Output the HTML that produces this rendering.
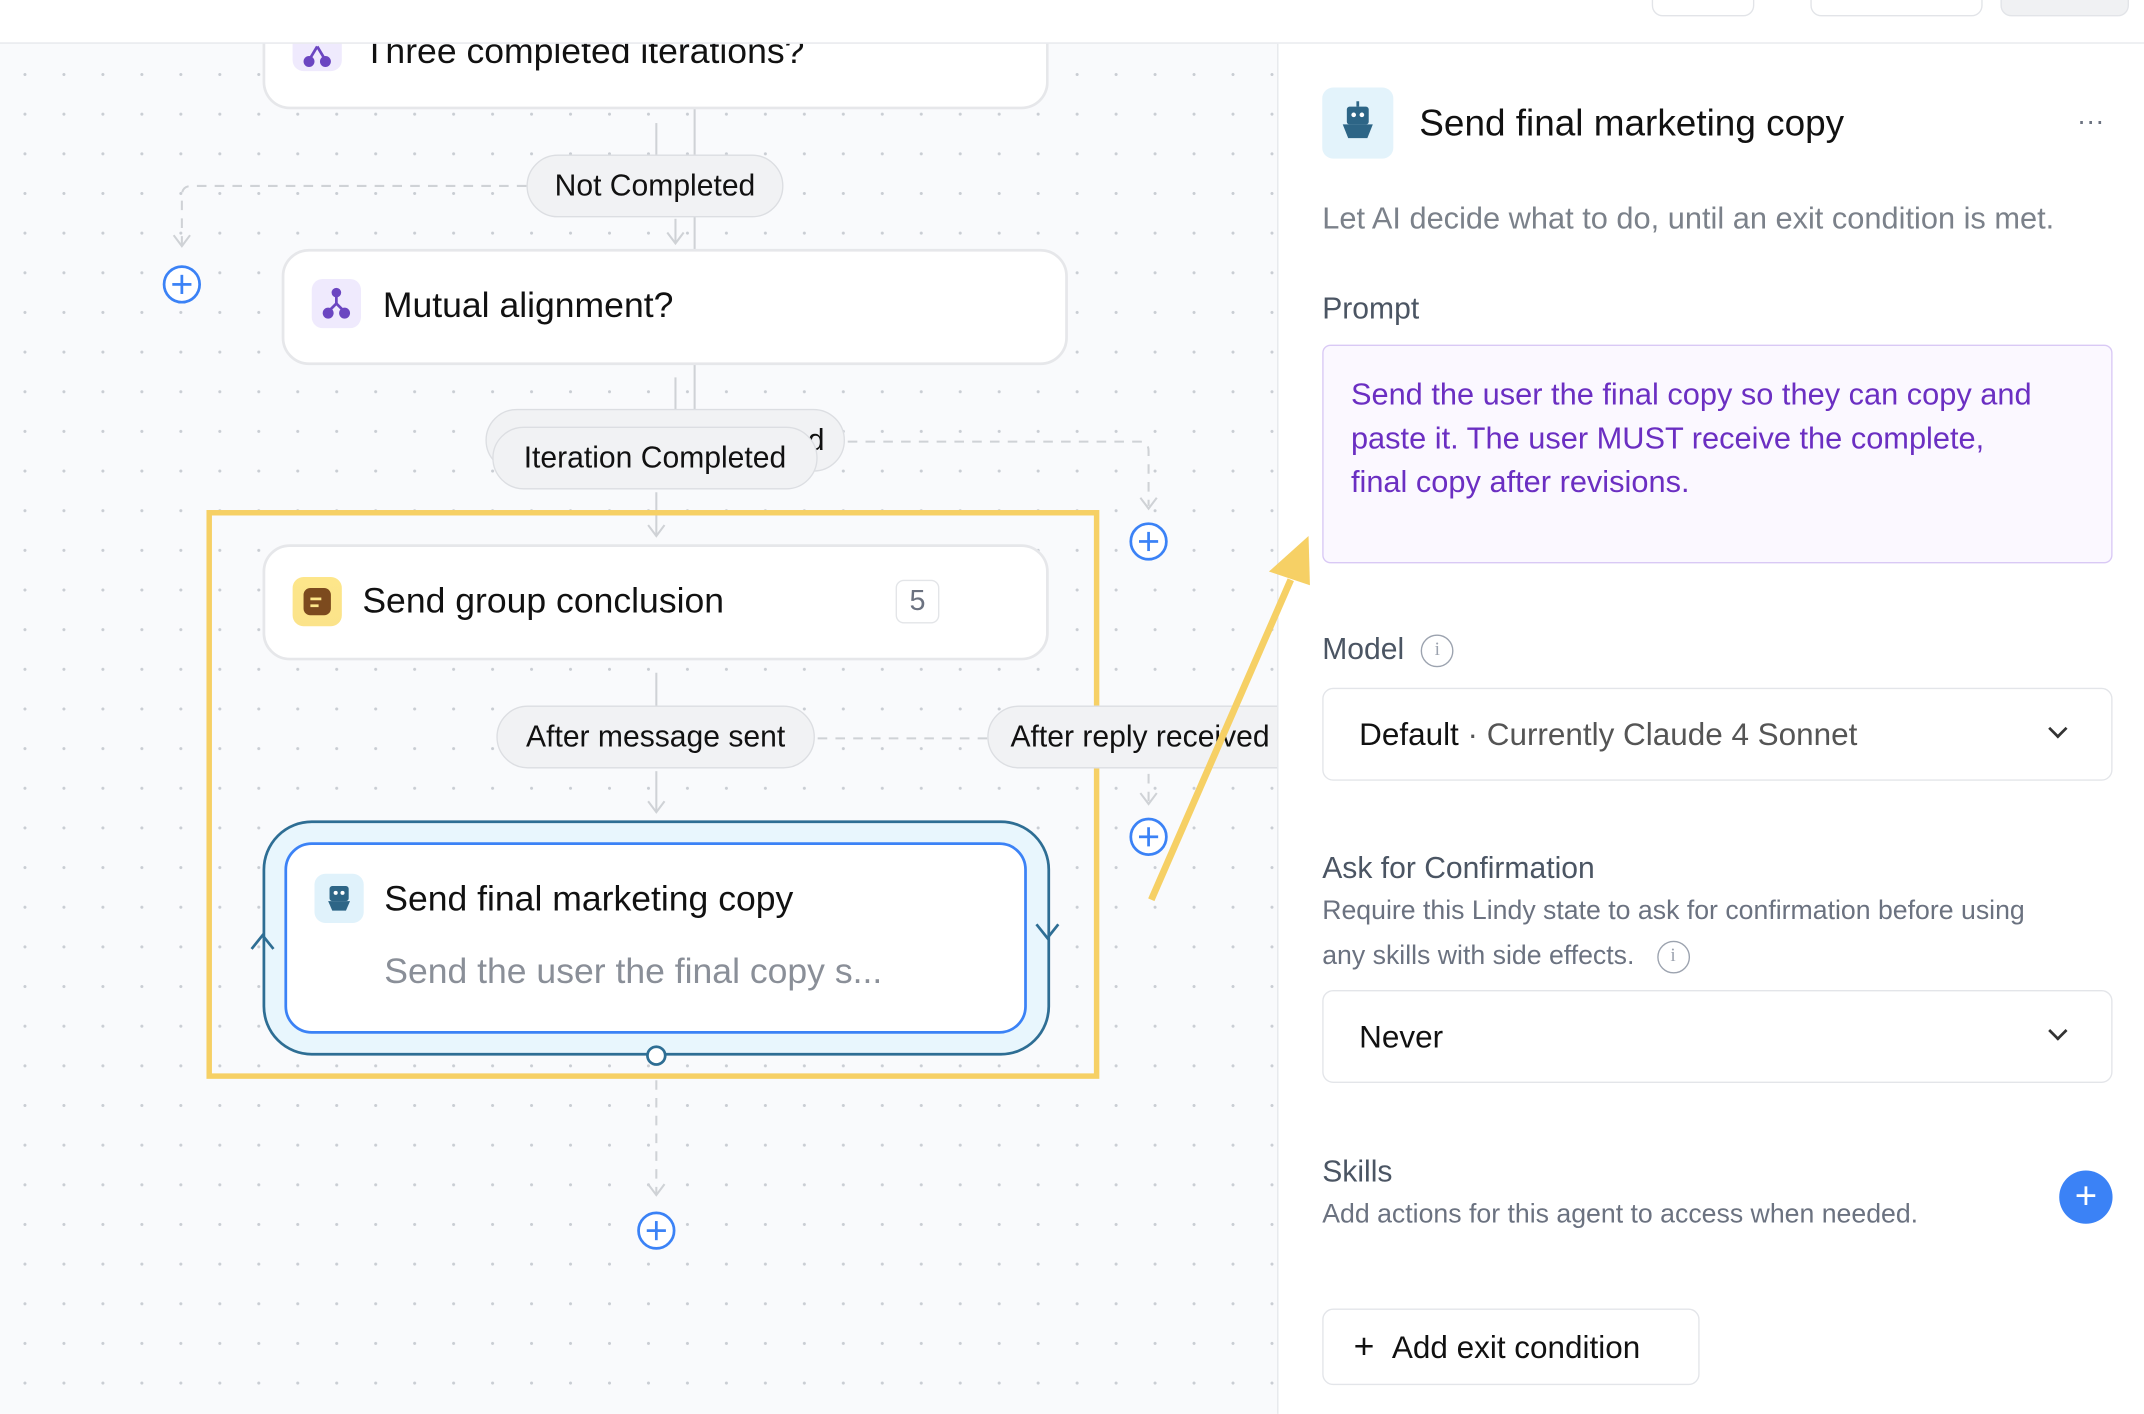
<!DOCTYPE html>
<html><head><meta charset="utf-8"><style>
*{box-sizing:border-box;margin:0;padding:0}
html,body{width:2144px;height:1414px;overflow:hidden;background:#fff}
#w{position:absolute;left:0;top:0;width:1568px;height:1034px;transform:scale(1.36735);transform-origin:0 0;font-family:"Liberation Sans",sans-serif;color:#111}
.canvas{position:absolute;left:0;top:32px;width:934px;height:1002px;background-color:#f9fafc;background-image:radial-gradient(circle,#c9cdd3 1px,transparent 1.2px);background-size:28.5px 29px;background-position:4px 8px}
.top{position:absolute;left:0;top:0;width:1568px;height:32px;background:#fff;border-bottom:1.5px solid #e5e7eb}
.btn{position:absolute;top:-10px;height:22px;border:1.5px solid #e2e4e8;border-radius:8px;background:#fff}
.node{position:absolute;background:#fff;border:2px solid #e6e7ea;border-radius:20px}
.ico{position:absolute;width:36px;height:36px;border-radius:8px}
.t{position:absolute;font-size:26px;white-space:nowrap}
.pill{position:absolute;height:46px;border:1.5px solid #dcdee2;background:#f1f2f4;border-radius:23px;font-size:22px;line-height:43px;text-align:center;white-space:nowrap;overflow:hidden}
.plus{position:absolute;width:28px;height:28px;border:2px solid #3b82f6;border-radius:50%;background:#fff}
.plus:before,.plus:after{content:"";position:absolute;background:#3b82f6;left:50%;top:50%;transform:translate(-50%,-50%)}
.plus:before{width:14px;height:2px}.plus:after{width:2px;height:14px}
.panel{position:absolute;left:934px;top:32px;width:634px;height:1002px;background:#fff;border-left:1.5px solid #e5e7eb}
.lbl{position:absolute;left:32px;font-size:22px;color:#4b5563}
.sub{position:absolute;left:32px;font-size:19.5px;color:#6b7280;line-height:33px}
.sel{position:absolute;left:32px;width:578px;height:68px;border:1.5px solid #e3e5e9;border-radius:8px;font-size:23px;line-height:66px;padding-left:26px}
.chev{position:absolute;right:34px;top:24px;width:10px;height:10px;border-right:2px solid #333;border-bottom:2px solid #333;transform:rotate(45deg)}
.info{display:inline-block;width:24px;height:24px;border:1.5px solid #9ca3af;border-radius:50%;font-size:14px;line-height:21px;text-align:center;color:#9ca3af;vertical-align:middle;font-family:"Liberation Serif",serif}
</style></head><body><div id="w">
<div class="canvas"></div>

<svg style="position:absolute;left:0;top:0" width="934" height="1034">
<g stroke="#cfd2d6" stroke-width="1.5" fill="none">
<line x1="480" y1="90" x2="480" y2="115"/><line x1="494" y1="160" x2="494" y2="178"/><polyline points="488,170 494,178 500,170"/>
<line x1="508" y1="32" x2="508" y2="300"/>
<line x1="494" y1="276" x2="494" y2="300"/>
<line x1="480" y1="360" x2="480" y2="392"/><polyline points="474,384 480,392 486,384"/>
<line x1="480" y1="492" x2="480" y2="516"/><line x1="480" y1="564" x2="480" y2="594"/><polyline points="474,586 480,594 486,586"/>
<g stroke-dasharray="7 6"><path d="M385 136 H140 Q133 136 133 143 V180"/><path d="M620 323 H834 Q840 323 840 330 V370"/><line x1="598" y1="540" x2="722" y2="540"/><line x1="480" y1="790" x2="480" y2="874"/><line x1="840" y1="566" x2="840" y2="588"/></g>
<polyline points="127,172 133,180 139,172"/><polyline points="834,364 840,372 846,364"/><polyline points="834,580 840,588 846,580"/><polyline points="474,866 480,874 486,866"/>
</g>
</svg>

<div class="node" style="left:192px;top:10px;width:575px;height:70px;border-top:none;border-radius:0 0 20px 20px"></div>
<div class="ico" style="left:214px;top:24px;width:36px;height:28px;background:#efeafd"></div>
<svg style="position:absolute;left:220px;top:30px" width="24" height="20"><path d="M12 4 L6 14 M12 4 L18 14" stroke="#6b46c1" stroke-width="2" fill="none"/><circle cx="6" cy="15" r="4" fill="#6b46c1"/><circle cx="18" cy="15" r="4" fill="#6b46c1"/></svg>
<div class="t" style="left:266px;top:22px">Three completed iterations?</div>

<div class="pill" style="left:385px;top:113px;width:188px">Not Completed</div>
<div class="plus" style="left:119px;top:194px"></div>

<div class="node" style="left:206px;top:182px;width:575px;height:85px"></div>
<div class="ico" style="left:228px;top:204px;background:#efeafd"></div>
<svg style="position:absolute;left:234px;top:210px" width="24" height="24"><circle cx="12" cy="4" r="3.5" fill="#6b46c1"/><line x1="12" y1="6" x2="12" y2="12" stroke="#6b46c1" stroke-width="2"/><path d="M6 18 L12 12 L18 18" stroke="#6b46c1" stroke-width="2" fill="none"/><circle cx="6" cy="19" r="4" fill="#6b46c1"/><circle cx="18" cy="19" r="4" fill="#6b46c1"/></svg>
<div class="t" style="left:280px;top:208px">Mutual alignment?</div>

<div class="pill" style="left:355px;top:299px;width:263px;text-align:right;padding-right:14px">d</div>
<div class="pill" style="left:360px;top:312px;width:238px">Iteration Completed</div>
<div class="plus" style="left:826px;top:382px"></div>

<div style="position:absolute;left:151px;top:373px;width:653px;height:416px;border:4px solid #f6d065"></div>

<div class="node" style="left:192px;top:398px;width:575px;height:85px"></div>
<div class="ico" style="left:214px;top:422px;background:linear-gradient(#fde68a,#fbe38a)"></div>
<div style="position:absolute;left:222px;top:430px;width:20px;height:20px;border-radius:5px;background:#7c4a1e"></div>
<div style="position:absolute;left:227px;top:437px;width:8px;height:2px;background:#fde68a"></div><div style="position:absolute;left:227px;top:442px;width:6px;height:2px;background:#fde68a"></div>
<div class="t" style="left:265px;top:424px">Send group conclusion</div>
<div style="position:absolute;left:655px;top:424px;width:32px;height:32px;border:1.5px solid #e3e5e8;border-radius:6px;font-size:21px;line-height:30px;text-align:center;color:#6b7280">5</div>

<div class="pill" style="left:363px;top:516px;width:233px">After message sent</div>
<div class="pill" style="left:722px;top:516px;width:240px;text-align:left;padding-left:16px">After reply received</div>
<div class="plus" style="left:826px;top:598px"></div>

<div style="position:absolute;left:192px;top:600px;width:576px;height:172px;border:2px solid #2e6e94;border-radius:36px;background:#e8f6fd"></div>
<div style="position:absolute;left:208px;top:616px;width:543px;height:140px;border:2px solid #3b82f6;border-radius:20px;background:#fff"></div>
<div class="ico" style="left:230px;top:639px;background:#e0f2fb"></div>
<svg style="position:absolute;left:236px;top:645px" width="24" height="24"><rect x="5" y="3" width="14" height="11" rx="2" fill="#2d6586"/><circle cx="9.5" cy="8" r="1.5" fill="#fff"/><circle cx="14.5" cy="8" r="1.5" fill="#fff"/><path d="M4 14 H20 L17 21 H7 Z" fill="#2d6586"/></svg>
<div class="t" style="left:281px;top:642px">Send final marketing copy</div>
<div class="t" style="left:281px;top:695px;color:#8a8f98">Send the user the final copy s...</div>
<svg style="position:absolute;left:180px;top:670px" width="600" height="110"><polyline points="4,24 12,14 20,24" stroke="#2e6e94" stroke-width="2" fill="none"/><polyline points="578,6 586,16 594,6" stroke="#2e6e94" stroke-width="2" fill="none"/><circle cx="300" cy="102" r="6.5" fill="#fff" stroke="#2e6e94" stroke-width="2"/></svg>
<div class="plus" style="left:466px;top:886px"></div>

<div class="top"><div class="btn" style="left:1208px;width:75px"></div><div class="btn" style="left:1324px;width:126px"></div><div class="btn" style="left:1463px;width:94px;background:#f0f1f3"></div></div>

<div class="panel">
<div style="position:absolute;left:32px;top:32px;width:52px;height:52px;border-radius:8px;background:#e3f3fb"></div>
<svg style="position:absolute;left:44px;top:42px" width="28" height="32"><rect x="6" y="4" width="16" height="13" rx="2" fill="#2d6586"/><rect x="13" y="0" width="2" height="4" fill="#2d6586"/><circle cx="11" cy="10" r="1.7" fill="#fff"/><circle cx="17" cy="10" r="1.7" fill="#fff"/><path d="M3 17 H25 L21 27 H7 Z" fill="#2d6586"/></svg>
<div style="position:absolute;left:103px;top:43px;font-size:27px">Send final marketing copy</div>
<div style="position:absolute;left:584px;top:46px;font-size:20px;color:#6b7280">···</div>
<div style="position:absolute;left:32px;top:115px;font-size:22.5px;color:#7b818a">Let AI decide what to do, until an exit condition is met.</div>
<div class="lbl" style="top:181px">Prompt</div>
<div style="position:absolute;left:32px;top:220px;width:578px;height:160px;border:1.5px solid #d9c9f5;border-radius:6px;background:#fbf8ff;padding:20px 48px 20px 20px;font-size:22.5px;line-height:32px;color:#6b2fc2">Send the user the final copy so they can copy and paste it. The user MUST receive the complete, final copy after revisions.</div>
<div class="lbl" style="top:430px">Model &nbsp;<span class="info">i</span></div>
<div class="sel" style="top:471px">Default <span style="color:#555">· Currently Claude 4 Sonnet</span><div class="chev"></div></div>
<div class="lbl" style="top:590px">Ask for Confirmation</div>
<div class="sub" style="top:618px">Require this Lindy state to ask for confirmation before using<br>any skills with side effects. &nbsp;&nbsp;<span class="info">i</span></div>
<div class="sel" style="top:692px">Never<div class="chev"></div></div>
<div class="lbl" style="top:812px">Skills</div>
<div class="sub" style="top:840px">Add actions for this agent to access when needed.</div>
<div style="position:absolute;left:571px;top:824px;width:39px;height:39px;border-radius:50%;background:#3b82f6;color:#fff;font-size:28px;line-height:37px;text-align:center">+</div>
<div style="position:absolute;left:32px;top:925px;width:276px;height:56px;border:1.5px solid #e3e5e9;border-radius:8px;font-size:23px;line-height:53px;padding-left:22px"><span style="font-size:26px">+</span>&nbsp;&nbsp;Add exit condition</div>
</div>

<svg style="position:absolute;left:820px;top:380px" width="160" height="300"><line x1="22" y1="278" x2="124" y2="44" stroke="#f6d065" stroke-width="5"/><polygon points="137,12 108,38 138,48" fill="#f6d065"/></svg>
</div></body></html>
